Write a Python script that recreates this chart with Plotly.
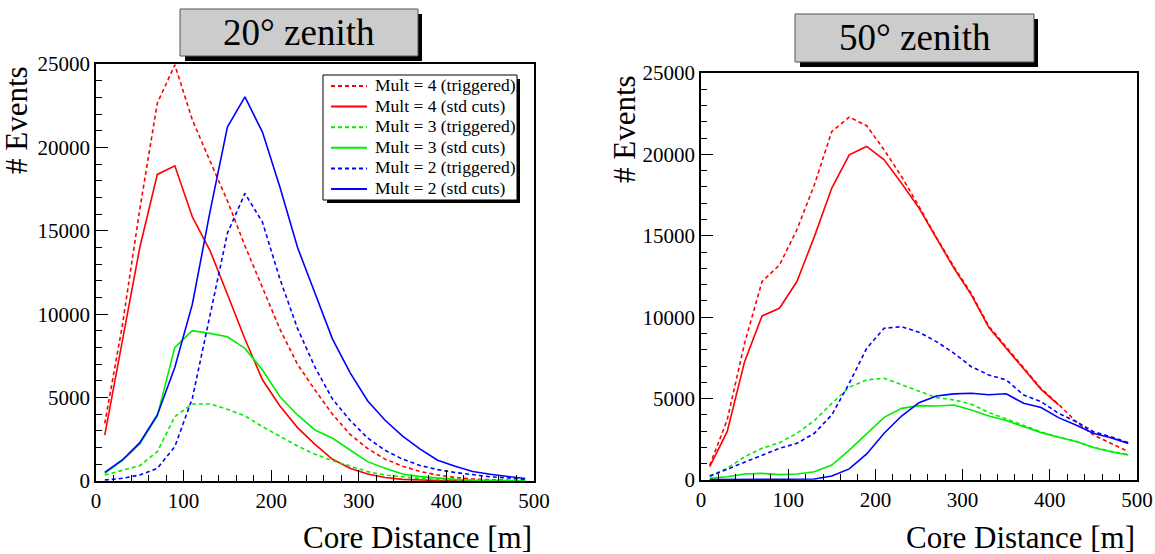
import plotly.graph_objects as go

# Bin centres of the core-distance histograms [m]
core_distance = [10, 30, 50, 70, 90, 110, 130, 150, 170, 190, 210, 230, 250,
                 270, 290, 310, 330, 350, 370, 390, 410, 430, 450, 470, 490]

# 20 degree zenith
z20_m4_trig = [3450, 9300, 16300, 22650, 24950, 21650, 19200, 16800, 14100, 11550,
               9100, 7000, 5450, 4000, 2800, 1950, 1310, 890, 570, 360, 210, 120, 70, 40, 20]
z20_m4_std = [2750, 8500, 14000, 18380, 18900, 15830, 13830, 11200, 8510, 6070,
              4500, 3200, 2200, 1300, 770, 420, 210, 100, 50, 30, 15, 10, 8, 5, 5]
z20_m3_trig = [360, 620, 920, 1760, 3860, 4620, 4620, 4300, 3900, 3260,
               2700, 2100, 1600, 1220, 900, 560, 360, 240, 150, 90, 60, 40, 30, 20, 10]
z20_m3_std = [460, 1220, 2220, 3900, 8010, 9010, 8850, 8650, 7950, 6650,
              5050, 3960, 3060, 2560, 1860, 1160, 760, 420, 260, 160, 100, 60, 40, 30, 20]
z20_m2_trig = [60, 160, 360, 760, 2060, 4960, 9900, 14850, 17240, 15520,
               12110, 9150, 6820, 4910, 3640, 2580, 1840, 1310, 930, 680, 510, 360, 250, 190, 100]
z20_m2_std = [520, 1260, 2300, 3960, 6820, 10600, 16100, 21220, 23030, 20920,
              17610, 14010, 11260, 8510, 6500, 4810, 3640, 2690, 1910, 1250, 890, 570, 400, 275, 150]

# 50 degree zenith
z50_m4_trig = [900, 3690, 8400, 12190, 13210, 15370, 18130, 21410, 22290, 21760,
               20280, 18640, 16800, 14900, 13100, 11450, 9450, 8150, 6900, 5620,
               4650, 3590, 2770, 2250, 1740]
z50_m4_std = [820, 2970, 7270, 10080, 10550, 12190, 14950, 17930, 19970, 20490,
              19670, 18230, 16700, 14850, 13010, 11370, 9380, 8090, 6860, 5570, 4610]
z50_m3_trig = [260, 720, 1430, 1950, 2290, 2870, 3650, 4710, 5700, 6150,
               6250, 5840, 5430, 5060, 4920, 4650, 4150, 3750, 3320, 2950,
               2640, 2380, 2010, 1760, 1560]
z50_m3_std = [100, 200, 370, 410, 330, 370, 510, 920, 1840, 2870,
              3850, 4400, 4570, 4550, 4610, 4300, 3930, 3650, 3280, 2910,
              2620, 2360, 1990, 1740, 1540]
z50_m2_trig = [230, 660, 1060, 1475, 1950, 2250, 2870, 4000, 5940, 8090,
               9320, 9420, 9080, 8500, 7790, 6960, 6450, 6150, 5220, 4810,
               4100, 3590, 2970, 2660, 2290]
z50_m2_std = [20, 20, 25, 30, 30, 30, 60, 250, 680, 1600,
              2870, 3930, 4750, 5160, 5290, 5330, 5240, 5300, 4710, 4450,
              3830, 3380, 2870, 2600, 2250]

series_names = ["Mult = 4 (triggered)", "Mult = 4 (std cuts)",
                "Mult = 3 (triggered)", "Mult = 3 (std cuts)",
                "Mult = 2 (triggered)", "Mult = 2 (std cuts)"]
series_colors = ["#ff0000", "#ff0000", "#00ee00", "#00ee00", "#0000ff", "#0000ff"]
series_dash = ["4px,3px", "solid"] * 3

panel_titles = ["20\u00b0 zenith", "50\u00b0 zenith"]
x_title = "Core Distance [m]"
y_title = "# Events"

W, H = 1155, 554
SERIF = "Liberation Serif"
LINE_W = 1.6


def fx(px):
    return px / W


def fy(py):
    return 1 - py / H


fig = go.Figure()

panels = [
    ([z20_m4_trig, z20_m4_std, z20_m3_trig, z20_m3_std, z20_m2_trig, z20_m2_std], "x", "y"),
    ([z50_m4_trig, z50_m4_std, z50_m3_trig, z50_m3_std, z50_m2_trig, z50_m2_std], "x2", "y2"),
]
for values, xa, ya in panels:
    for name, vals, col, dash in zip(series_names, values, series_colors, series_dash):
        fig.add_trace(go.Scatter(
            x=core_distance[:len(vals)], y=vals, mode="lines", name=name,
            line=dict(color=col, width=LINE_W, dash=dash),
            xaxis=xa, yaxis=ya, showlegend=False,
        ))

# Plot frames in pixels: (left, right, top, bottom)
frames = [(96, 534, 64, 481), (701, 1137, 73, 480)]

axis_common = dict(
    showline=True, linecolor="black", linewidth=1.5, mirror=True, automargin=False,
    ticks="inside", tickcolor="black", tickwidth=1, showgrid=False, zeroline=False,
    tickformat="d",
    tickfont=dict(family=SERIF, size=21, color="black"),
)

layout_axes = {}
for i, (l, r, t, b) in enumerate(frames):
    sfx = "" if i == 0 else str(i + 1)
    layout_axes["xaxis" + sfx] = dict(
        axis_common, domain=[fx(l), fx(r)], range=[0, 500], dtick=100, ticklen=11,
        anchor="y" + sfx,
        minor=dict(ticks="inside", dtick=20, ticklen=6, tickcolor="black", tickwidth=1),
    )
    layout_axes["yaxis" + sfx] = dict(
        axis_common, domain=[fy(b), fy(t)], range=[0, 25000], dtick=5000, ticklen=12,
        anchor="x" + sfx,
        minor=dict(ticks="inside", dtick=1000, ticklen=6, tickcolor="black", tickwidth=1),
    )

shapes = []
annotations = []

# Title boxes with drop shadow
title_boxes = [(180, 418, 9, 56), (795, 1034, 14, 62)]
for (l, r, t, b), text in zip(title_boxes, panel_titles):
    shapes.append(dict(type="rect", xref="paper", yref="paper",
                       x0=fx(l + 5), x1=fx(r + 4), y0=fy(b + 5), y1=fy(t + 5),
                       fillcolor="black", line=dict(width=0), layer="above"))
    shapes.append(dict(type="rect", xref="paper", yref="paper",
                       x0=fx(l), x1=fx(r), y0=fy(b), y1=fy(t),
                       fillcolor="#cccccc", line=dict(color="#555555", width=1), layer="above"))
    annotations.append(dict(text=text, xref="paper", yref="paper",
                            x=fx((l + r) / 2), y=fy((t + b) / 2),
                            xanchor="center", yanchor="middle", showarrow=False,
                            font=dict(family=SERIF, size=37, color="black")))

# Axis titles
for (l, r, t, b), ytx in zip(frames, [17, 624]):
    annotations.append(dict(text=y_title, xref="paper", yref="paper",
                            x=fx(ytx), y=fy(t), xanchor="center", yanchor="top",
                            textangle=-90, showarrow=False,
                            font=dict(family=SERIF, size=31, color="black")))
    annotations.append(dict(text=x_title, xref="paper", yref="paper",
                            x=fx(r), y=fy(537), xanchor="right", yanchor="middle",
                            showarrow=False,
                            font=dict(family=SERIF, size=31, color="black")))

# Legend box (20 degree panel) with shadow, line samples and labels
lg_l, lg_r, lg_t, lg_b = 323, 517, 75, 200
shapes.append(dict(type="rect", xref="paper", yref="paper",
                   x0=fx(lg_l + 4), x1=fx(lg_r + 3), y0=fy(lg_b + 3), y1=fy(lg_t + 4),
                   fillcolor="black", line=dict(width=0), layer="above"))
shapes.append(dict(type="rect", xref="paper", yref="paper",
                   x0=fx(lg_l), x1=fx(lg_r), y0=fy(lg_b), y1=fy(lg_t),
                   fillcolor="white", line=dict(color="black", width=1), layer="above"))
row0, row_step = 86, 20.6
for k, (name, col, dash) in enumerate(zip(series_names, series_colors, series_dash)):
    yy = row0 + k * row_step
    shapes.append(dict(type="line", xref="paper", yref="paper",
                       x0=fx(331), x1=fx(367), y0=fy(yy), y1=fy(yy),
                       line=dict(color=col, width=2, dash=dash), layer="above"))
    annotations.append(dict(text=name, xref="paper", yref="paper",
                            x=fx(373), y=fy(yy - 1), xanchor="left", yanchor="middle",
                            showarrow=False,
                            font=dict(family=SERIF, size=17.5, color="black")))

fig.update_layout(
    width=W, height=H,
    margin=dict(l=0, r=0, t=0, b=0),
    paper_bgcolor="white", plot_bgcolor="white",
    showlegend=False,
    shapes=shapes, annotations=annotations,
    **layout_axes,
)

fig.write_html("out.html")
